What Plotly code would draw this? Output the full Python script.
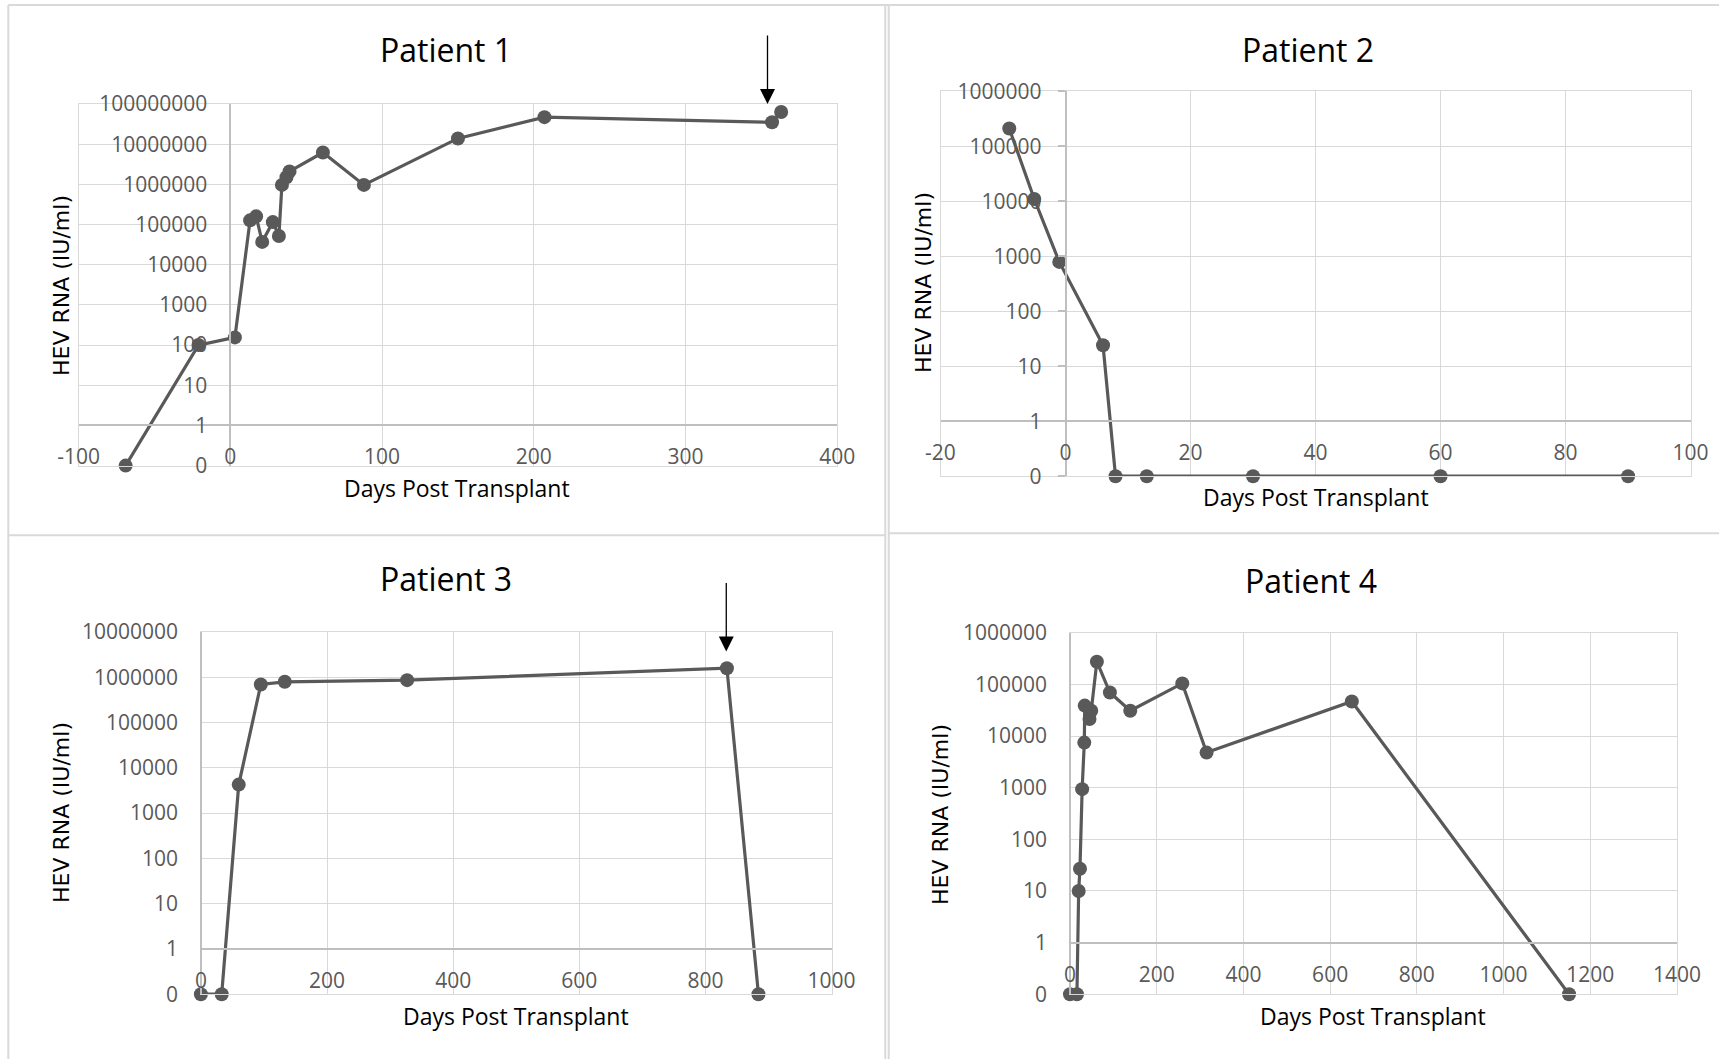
import math
import plotly.graph_objects as go

# ---------------- data ----------------
days_p1 = [-69, -21, 3, 13, 17, 21, 28, 32, 34, 37, 39, 61, 88, 150, 207, 357, 363]
hev_p1 = [0, 100, 155, 127000, 160000, 37000, 115000, 52000, 970000, 1500000,
          2100000, 6200000, 970000, 13900000, 47000000, 35000000, 63000000]

days_p2 = [-9, -5, -1, 6, 8, 13, 30, 60, 90]
hev_p2 = [210000, 11000, 790, 24, 0, 0, 0, 0, 0]

days_p3 = [0, 33, 60, 95, 133, 327, 834, 884]
hev_p3 = [0, 0, 4250, 690000, 790000, 860000, 1580000, 0]

days_p4 = [0, 16, 20, 23, 28, 33, 34, 45, 49, 62, 92, 139, 259, 315, 650, 1151]
hev_p4 = [0, 0, 10, 27, 940, 7500, 39000, 21500, 31000, 277000, 70000, 31000,
          105000, 4800, 47000, 0]

titles = ["Patient 1", "Patient 2", "Patient 3", "Patient 4"]
x_title = "Days Post Transplant"
y_title = "HEV RNA (IU/ml)"

x_ticks_p1 = [-100, 0, 100, 200, 300, 400]
x_ticks_p2 = [-20, 0, 20, 40, 60, 80, 100]
x_ticks_p3 = [0, 200, 400, 600, 800, 1000]
x_ticks_p4 = [0, 200, 400, 600, 800, 1000, 1200, 1400]

y_top_exponent = [8, 6, 7, 6]          # highest decade shown per panel
y_tick_labels = ["0", "1", "10", "100", "1000", "10000", "100000",
                 "1000000", "10000000", "100000000"]

arrow_days = [354, None, 833, None]     # treatment arrows (days)
arrow_level = [1e8, None, 3.7e6, None]  # HEV level at arrow tip

# ---------------- styling / layout constants ----------------
W, H = 1719, 1059
ZERO_LEVEL = 0.1   # "0" is drawn one decade below 1 on the log axis
LINE_COL = "#595959"
GRID_COL = "#d9d9d9"
AXIS_COL = "#bfbfbf"
FONT = "Open Sans"

# plot boxes in pixels: left, top, right, bottom
boxes = [(78.6, 104.0, 837.3, 465.6),
         (940.5, 91.3, 1690.6, 476.2),
         (200.9, 631.9, 831.6, 994.2),
         (1070.0, 632.9, 1677.0, 994.2)]
title_pos = [(446, 50), (1308, 50), (446, 578), (1311, 580)]
xtitle_pos = [(457, 488), (1316, 497), (516, 1016), (1373, 1016)]
ytitle_pos = [(62, 286), (923, 283), (61, 813), (940, 815)]


def px(x):
    return x / W


def py(y):
    return 1 - y / H


days_all = [days_p1, days_p2, days_p3, days_p4]
hev_all = [hev_p1, hev_p2, hev_p3, hev_p4]
xticks_all = [x_ticks_p1, x_ticks_p2, x_ticks_p3, x_ticks_p4]

fig = go.Figure()
layout = dict(width=W, height=H,
              margin=dict(l=0, r=0, t=0, b=0, pad=0, autoexpand=False),
              paper_bgcolor="white", plot_bgcolor="white", showlegend=False,
              annotations=[], shapes=[])

for i in range(4):
    k = i + 1
    kt = i + 5
    sfx = "" if k == 1 else str(k)
    L, T, R, B = boxes[i]
    xt = xticks_all[i]
    xr = [xt[0], xt[-1]]
    ntop = y_top_exponent[i]
    yr = [-1, ntop]
    yvals = [ZERO_LEVEL] + [10 ** e for e in range(0, ntop + 1)]
    ytext = y_tick_labels[: ntop + 2]

    yplot = [v if v > 0 else ZERO_LEVEL for v in hev_all[i]]
    fig.add_trace(go.Scatter(
        x=days_all[i], y=yplot, mode="lines+markers",
        line=dict(color=LINE_COL, width=3.2),
        marker=dict(color=LINE_COL, size=14),
        cliponaxis=False, xaxis="x" + sfx, yaxis="y" + sfx))
    # dummy traces to register the tick-label axes
    fig.add_trace(go.Scatter(x=[None], y=[None], mode="markers",
                             xaxis="x%d" % kt, yaxis="y" + sfx, hoverinfo="skip"))
    fig.add_trace(go.Scatter(x=[None], y=[None], mode="markers",
                             xaxis="x" + sfx, yaxis="y%d" % kt, hoverinfo="skip"))

    dom_x = [px(L), px(R)]
    dom_y = [py(B), py(T)]
    layout["xaxis" + sfx] = dict(
        domain=dom_x, range=xr, tickvals=xt, showticklabels=False,
        showgrid=True, gridcolor=GRID_COL, gridwidth=1.3, zeroline=False,
        showline=True, mirror=True, linecolor=GRID_COL, linewidth=1.3,
        anchor="y" + sfx, ticks="", automargin=False)
    layout["yaxis" + sfx] = dict(
        domain=dom_y, type="log", range=yr, tickvals=yvals, showticklabels=False,
        showgrid=True, gridcolor=GRID_COL, gridwidth=1.3, zeroline=False,
        showline=True, mirror=True, linecolor=GRID_COL, linewidth=1.3,
        anchor="x" + sfx, ticks="", automargin=False)

    # x axis crossing at "1"
    pos_y = dom_y[0] + (dom_y[1] - dom_y[0]) * (0 - yr[0]) / (yr[1] - yr[0])
    layout["xaxis%d" % kt] = dict(
        overlaying="x" + sfx, anchor="free", position=pos_y, range=xr,
        tickvals=xt, ticktext=[str(v) for v in xt], showgrid=False,
        zeroline=False, showline=True, linecolor=AXIS_COL, linewidth=1.5,
        ticks="", ticklabelstandoff=13, automargin=False,
        tickfont=dict(family=FONT, size=21, color=LINE_COL))
    # y axis crossing at day 0
    pos_x = dom_x[0] + (dom_x[1] - dom_x[0]) * (0 - xr[0]) / (xr[1] - xr[0])
    layout["yaxis%d" % kt] = dict(
        overlaying="y" + sfx, anchor="free", position=pos_x, type="log",
        range=yr, tickvals=yvals, ticktext=ytext, showgrid=False,
        zeroline=False, showline=True, linecolor=AXIS_COL, linewidth=1.5,
        ticks="outside" if k == 2 else "", ticklen=7, tickcolor=AXIS_COL,
        tickwidth=1.5, ticklabelstandoff=12 if k == 2 else 18,
        automargin=False,
        tickfont=dict(family=FONT, size=21, color=LINE_COL))

    # titles
    tx, ty = title_pos[i]
    layout["annotations"].append(dict(
        text=titles[i], x=px(tx), y=py(ty), xref="paper", yref="paper",
        xanchor="center", yanchor="middle", showarrow=False,
        font=dict(family=FONT, size=32, color="black")))
    tx, ty = xtitle_pos[i]
    layout["annotations"].append(dict(
        text=x_title, x=px(tx), y=py(ty), xref="paper", yref="paper",
        xanchor="center", yanchor="middle", showarrow=False,
        font=dict(family=FONT, size=23, color="black")))
    tx, ty = ytitle_pos[i]
    layout["annotations"].append(dict(
        text=y_title, x=px(tx), y=py(ty), xref="paper", yref="paper",
        xanchor="center", yanchor="middle", showarrow=False, textangle=-90,
        font=dict(family="DejaVu Sans", size=22, color="black")))

    if arrow_days[i] is not None:
        layout["annotations"].append(dict(
            x=arrow_days[i], y=math.log10(arrow_level[i]),
            xref="x" + sfx, yref="y" + sfx, text="", showarrow=True,
            ax=0, ay=-70, arrowhead=2, arrowsize=2.3, arrowwidth=1.3,
            arrowcolor="black", standoff=0))

# panel borders
border_lines = [((8.3, 5), (W, 5)), ((8.3, 5), (8.3, H)),
                ((885.3, 5), (885.3, H)), ((888.7, 5), (888.7, H)),
                ((8.3, 535.3), (885.3, 535.3)), ((888.7, 533.3), (W, 533.3))]
for (x0, y0), (x1, y1) in border_lines:
    layout["shapes"].append(dict(type="line", xref="paper", yref="paper",
                                 x0=px(x0), y0=py(y0), x1=px(x1), y1=py(y1),
                                 line=dict(color=GRID_COL, width=2)))

fig.update_layout(**layout)
fig.write_html("out.html", config={"displayModeBar": False},
               post_script="document.body.style.margin='0';")
